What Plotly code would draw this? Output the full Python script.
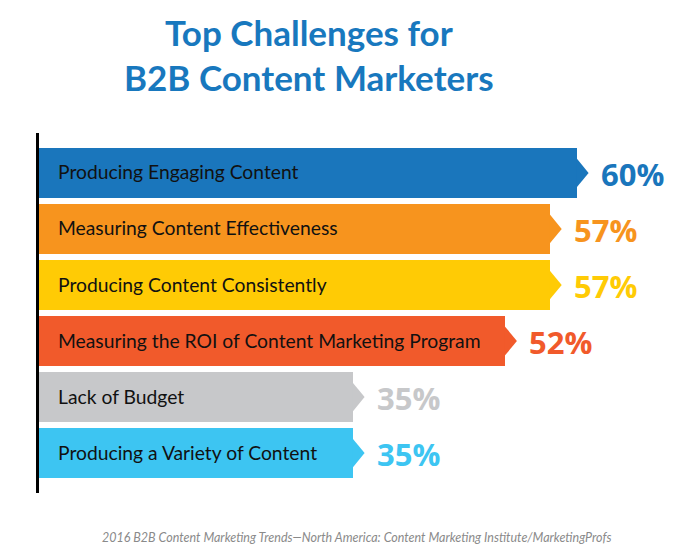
import plotly.graph_objects as go

# data
challenges = [
    "Producing Engaging Content",
    "Measuring Content Effectiveness",
    "Producing Content Consistently",
    "Measuring the ROI of Content Marketing Program",
    "Lack of Budget",
    "Producing a Variety of Content",
]
percent = [60, 57, 57, 52, 35, 35]
colors = ["#1a76bc", "#f7941e", "#ffcb05", "#f15a2b", "#c7c8ca", "#3dc5f2"]

title_lines = ["Top Challenges for", "B2B Content Marketers"]
source = "2016 B2B Content Marketing Trends\u2014North America: Content Marketing Institute/MarketingProfs"

# the page body has an 8px margin, so the figure is drawn a bit smaller
OFF = 8
W, H = 683 - OFF, 556 - OFF
left, top, bottom = 31, 125, 63
plot_h = H - top - bottom
px_per_unit = 8.96
x_max = (W - left) / px_per_unit
tip_len = 12 / px_per_unit   # arrow tip length in data units
tip_half = 0.27              # arrow tip half-height in category units
bar_w = 0.91


def py(y_px):
    # figure pixel row -> paper y
    return (H - bottom - y_px) / plot_h


def px(x_px):
    return (x_px - left) / (W - left)


ys = list(range(len(challenges)))

fig = go.Figure()
fig.add_trace(go.Bar(
    x=percent, y=ys, orientation="h", width=bar_w,
    marker=dict(color=colors, line=dict(width=0)),
    hoverinfo="skip", showlegend=False,
))

# arrow tips at the end of each bar
for y, v, c in zip(ys, percent, colors):
    fig.add_trace(go.Scatter(
        x=[v - 0.05, v + tip_len, v - 0.05, v - 0.05],
        y=[y - tip_half, y, y + tip_half, y - tip_half],
        mode="lines", fill="toself", fillcolor=c,
        line=dict(width=0, color=c), hoverinfo="skip", showlegend=False,
    ))

annotations = []
for y, v, c, name in zip(ys, percent, colors, challenges):
    annotations.append(dict(
        x=0, y=y, xref="x", yref="y", text=name, showarrow=False,
        xanchor="left", xshift=17, yshift=1,
        font=dict(family="Lato", size=19.3, color="#111111"),
    ))
    annotations.append(dict(
        x=v + tip_len, y=y, xref="x", yref="y", text="<b>%d%%</b>" % v,
        showarrow=False, xanchor="left", xshift=10, yshift=-1,
        font=dict(family="Open Sans", size=31, color=c),
    ))

# title, two lines
for line, yc in zip(title_lines, [24, 69]):
    annotations.append(dict(
        x=px(301), y=py(yc), xref="paper", yref="paper", text=line,
        showarrow=False, xanchor="center", yanchor="middle",
        font=dict(family="Lato", size=35, color="#1878be", weight=700),
    ))

# source footer
annotations.append(dict(
    x=px(348), y=py(529), xref="paper", yref="paper", xanchor="center",
    yanchor="middle", text="<i>" + source + "</i>", showarrow=False,
    font=dict(family="Lato", size=12.5, color="#8a8a8a"),
))

fig.update_layout(
    width=W, height=H,
    margin=dict(l=left, r=0, t=top, b=bottom, pad=0),
    paper_bgcolor="white", plot_bgcolor="white",
    bargap=0,
    xaxis=dict(range=[0, x_max], visible=False, fixedrange=True),
    yaxis=dict(
        range=[len(challenges) - 0.5 + 0.214, -0.5 - 0.214],
        showticklabels=False, showgrid=False, zeroline=False,
        showline=True, linecolor="black", linewidth=2.5, ticks="",
    ),
    annotations=annotations,
)

fig.write_html("out.html")
